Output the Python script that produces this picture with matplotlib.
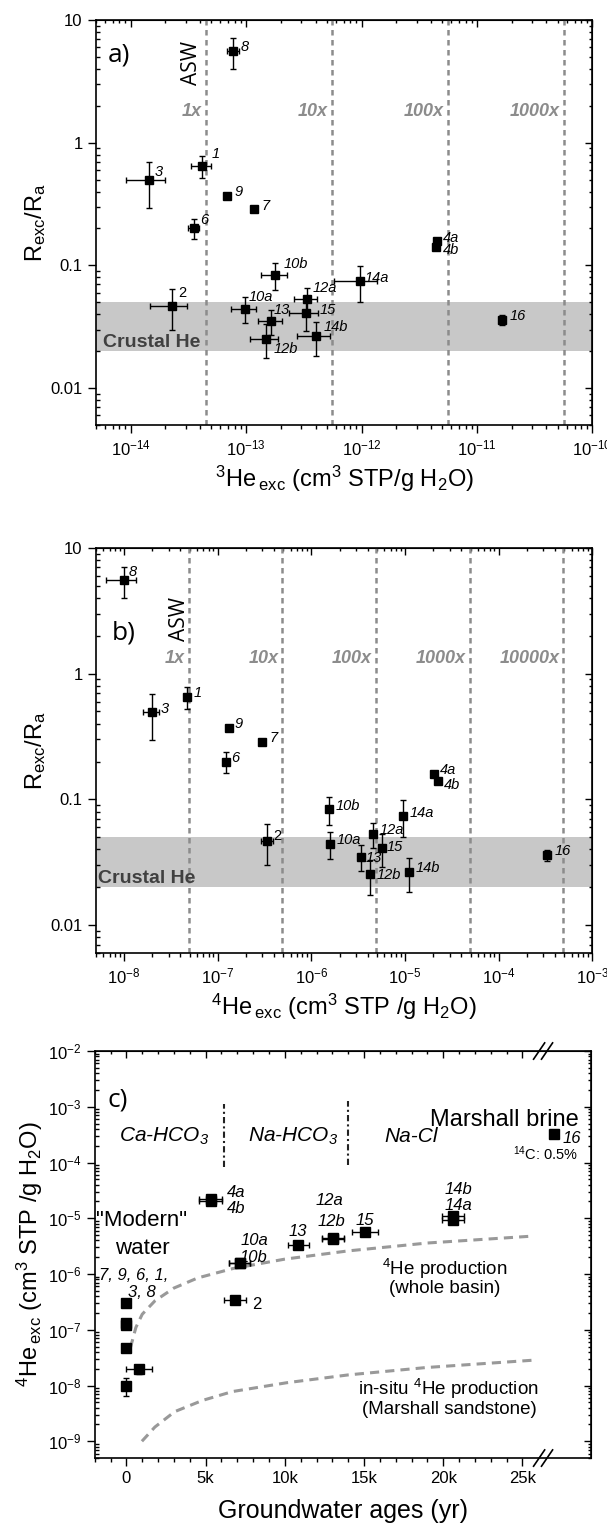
import numpy as np
import matplotlib
matplotlib.use('Agg')
import matplotlib.pyplot as plt
from matplotlib.ticker import FixedLocator, NullFormatter, FuncFormatter
import matplotlib.transforms as mtransforms

plt.rcParams['font.family'] = ['Liberation Sans', 'DejaVu Sans']
plt.rcParams['axes.unicode_minus'] = False
plt.rcParams['mathtext.fontset'] = 'custom'
plt.rcParams['mathtext.rm'] = 'Liberation Sans'
plt.rcParams['mathtext.it'] = 'Liberation Sans:italic'
plt.rcParams['mathtext.bf'] = 'Liberation Sans:bold'

# ---- data ----
samples = ['1', '2', '3', '4a', '4b', '6', '7', '8', '9',
           '10a', '10b', '12a', '12b', '13', '14a', '14b', '15', '16']
he3 = [4.14e-14, 2.28e-14, 1.44e-14, 4.52e-12, 4.45e-12, 3.52e-14, 1.18e-13, 7.74e-14, 6.79e-14,
       9.83e-14, 1.79e-13, 3.35e-13, 1.49e-13, 1.65e-13, 9.73e-13, 4.07e-13, 3.28e-13, 1.66e-11]
he3_err = [0.8e-14, 0.8e-14, 0.53e-14, 0.1e-12, 0.1e-12, 0.38e-14, 0.05e-13, 0.9e-14, 0.2e-14,
           2.4e-14, 0.45e-13, 0.77e-13, 0.41e-13, 0.38e-13, 4.0e-13, 1.29e-13, 0.95e-13, 0.1e-11]
he4 = [4.64e-8, 3.36e-7, 1.98e-8, 2.04e-5, 2.24e-5, 1.22e-7, 3.0e-7, 9.9e-9, 1.32e-7,
       1.59e-6, 1.55e-6, 4.5e-6, 4.26e-6, 3.37e-6, 9.5e-6, 1.1e-5, 5.7e-6, 3.27e-4]
he4_err = [0.3e-8, 0.5e-7, 0.38e-8, 0.05e-5, 0.05e-5, 0.05e-7, 0.1e-7, 3.5e-9, 0.05e-7,
           0.05e-6, 0.05e-6, 0.1e-6, 0.1e-6, 0.1e-6, 0.2e-6, 0.3e-6, 0.1e-6, 0.1e-4]
ratio = [0.65, 0.047, 0.495, 0.158, 0.141, 0.20, 0.287, 5.55, 0.37,
         0.0445, 0.084, 0.053, 0.0253, 0.035, 0.074, 0.0264, 0.041, 0.036]
ratio_err = [0.13, 0.017, 0.2, 0.005, 0.005, 0.037, 0.01, 1.55, 0.02,
             0.0108, 0.021, 0.012, 0.0078, 0.008, 0.024, 0.008, 0.012, 0.0035]
age = [0, 6830, 800, 5320, 5320, 0, 0, 0, 0,
       7150, 7150, 13050, 13050, 10850, 20600, 20600, 15070, 27000]
age_err = [0, 700, 800, 730, 730, 0, 0, 0, 0,
           670, 670, 700, 700, 670, 700, 700, 800, 0]

crustal_band = [0.02, 0.05]
asw_he3 = [4.5e-14, 5.55e-13, 5.6e-12, 5.7e-11]
asw_he3_labels = ['1x', '10x', '100x', '1000x']
asw_he4 = [4.9e-8, 4.9e-7, 4.9e-6, 4.9e-5, 4.9e-4]
asw_he4_labels = ['1x', '10x', '100x', '1000x', '10000x']

basin_age = [250, 600, 1000, 1800, 3000, 4500, 6700, 10000, 14000, 19000, 25700]
basin_he4 = [4.7e-8, 1.1e-7, 1.9e-7, 3.3e-7, 5.6e-7, 8.5e-7, 1.25e-6, 1.85e-6, 2.6e-6, 3.6e-6, 4.8e-6]
insitu_age = [980, 1800, 3050, 4800, 6700, 10100, 14000, 18900, 25700]
insitu_he4 = [1.0e-9, 1.8e-9, 3.4e-9, 5.4e-9, 7.8e-9, 1.12e-8, 1.55e-8, 2.1e-8, 2.85e-8]

facies_age = [6170, 13980]
facies_lo = [8.4e-5, 9.0e-5]
facies_hi = [1.12e-3, 1.27e-3]
break_age = 26300

# label offsets (pixels right, pixels down) per panel
off_a = {'8': (7.7, -4), '1': (9.3, -11.3), '3': (6, -8.3), '9': (7.7, -3.3), '7': (7, -3.3),
         '6': (6, -8.7), '4a': (6.2, -3.3), '4b': (7, 3.3), '10b': (8, -10.7), '14a': (4.6, -3.3),
         '12a': (5.8, -11), '2': (5.8, -12.3), '10a': (3.5, -11.3), '15': (13.5, -2.7),
         '13': (2.7, -11), '12b': (7.7, 10.7), '14b': (7, -9), '16': (7, -4)}
off_b = {'8': (5, -8.3), '3': (8.5, -3.3), '1': (6.6, -4), '9': (5.8, -4.3), '7': (6.6, -4.3),
         '6': (5.8, -3.3), '4a': (5.8, -4.3), '4b': (5.8, 4), '10b': (6.6, -3.3), '14a': (6.6, -3.3),
         '12a': (7.3, -4.3), '2': (6.2, -4.3), '10a': (6.6, -3.7), '15': (4.6, -0.7),
         '13': (5, 1), '12b': (5.8, 1), '14b': (7, -4), '16': (7.3, -4)}
off_c = {'4a': (16, -8.3, 'left'), '4b': (16, 10, 'left'), '12a': (-4, -36.7, 'center'),
         '12b': (-2, -17.7, 'center'), '15': (0, -11.3, 'center'), '13': (0, -13.3, 'center'),
         '10a': (14.3, -22.7, 'center'), '10b': (14, -5.7, 'center'), '14b': (5.8, -26.7, 'center'),
         '14a': (5.8, -14.3, 'center'), '2': (17.4, 4.3, 'left'), '16': (8.5, 4.3, 'left')}

GRAY = '#8c8c8c'
PX = 0.72  # points per pixel at dpi 100
TAGFONT = ['Open Sans', 'DejaVu Sans']

fig = plt.figure(figsize=(6.07, 15.25), dpi=100)
ax_a = fig.add_axes([0.158, 0.7213, 0.818, 0.2656])
ax_b = fig.add_axes([0.158, 0.3751, 0.818, 0.2656])
ax_c = fig.add_axes([0.156, 0.0439, 0.817, 0.2669])


def style_ticks(ax):
    ax.tick_params(axis='both', which='major', labelsize=12, width=1, length=6, direction='out')
    ax.tick_params(axis='x', which='minor', width=1, length=3, direction='out')
    ax.tick_params(axis='y', which='minor', width=1, length=3, direction='in')
    for s in ax.spines.values():
        s.set_linewidth(1.2)
    top = ax.secondary_xaxis('top')
    right = ax.secondary_yaxis('right')
    for sec, axis in ((top, top.xaxis), (right, right.yaxis)):
        sec.tick_params(which='major', direction='in', length=5, width=1)
        sec.tick_params(which='minor', direction='in', length=2.5, width=1)
        axis.set_major_formatter(NullFormatter())
        axis.set_minor_formatter(NullFormatter())
    return top, right


def label_points(ax, xs, ys, offsets, size):
    for name, x, y in zip(samples, xs, ys):
        if name not in offsets:
            continue
        o = offsets[name]
        ha = o[2] if len(o) > 2 else 'left'
        style = 'normal' if name == '2' else 'italic'
        ax.annotate(name, (x, y), xytext=(o[0] * PX, -o[1] * PX), textcoords='offset points',
                    ha=ha, va='center', fontsize=size, style=style)


def ratio_panel(ax, xvals, xerr, lines, line_labels, xlim, ylim, xlabel, tag, tag_xy, asw_xy,
                lab_y, crust_x, offsets):
    ax.set_xscale('log')
    ax.set_yscale('log')
    ax.set_xlim(*xlim)
    ax.set_ylim(*ylim)
    ax.axhspan(crustal_band[0], crustal_band[1], color='#c8c8c8', lw=0, zorder=0)
    for x, lab in zip(lines, line_labels):
        ax.axvline(x, color=GRAY, lw=1.8, ls=(0, (2.2, 1.8)), zorder=1)
        ax.annotate(lab, (x, lab_y), xytext=(-3, 0), textcoords='offset points', ha='right',
                    va='center', fontsize=13, style='italic', fontweight='bold', color=GRAY)
    ax.errorbar(xvals, ratio, xerr=xerr, yerr=ratio_err, fmt='s', color='black', ms=6,
                elinewidth=1, capsize=2.5, capthick=1, zorder=3)
    label_points(ax, xvals, ratio, offsets, 10.5)
    ax.text(crust_x, 0.0235, 'Crustal He', fontsize=14, fontweight='bold', color='#404040',
            va='center', family=['Liberation Sans Narrow', 'Liberation Sans'])
    ax.text(tag_xy[0], tag_xy[1], tag, fontsize=19, family=TAGFONT, va='center')
    ax.text(asw_xy[0], asw_xy[1], 'ASW', fontsize=15, family=TAGFONT,
            rotation=90, ha='center', va='center')
    ax.yaxis.set_major_formatter(FuncFormatter(lambda v, p: '%g' % v))
    ax.yaxis.set_minor_formatter(NullFormatter())
    ax.set_xlabel(xlabel, fontsize=17, labelpad=4)
    ax.set_ylabel(r'$\mathregular{R_{exc}/R_a}$', fontsize=17, labelpad=2)
    style_ticks(ax)


ratio_panel(ax_a, he3, he3_err, asw_he3, asw_he3_labels, (5e-15, 1e-10), (0.005, 10),
            r'$\mathregular{^3He\,{}_{exc}\ (cm^3\ STP/g\ H_2O)}$', 'a)', (6.3e-15, 5.2),
            (3.36e-14, 4.5), 1.78, 5.8e-15, off_a)
ratio_panel(ax_b, he4, he4_err, asw_he4, asw_he4_labels, (5e-9, 1e-3), (0.006, 10),
            r'$\mathregular{^4He\,{}_{exc}\ (cm^3\ STP\ /g\ H_2O)}$', 'b)', (7.4e-9, 2.1),
            (3.9e-8, 2.72), 1.33, 5.3e-9, off_b)

# ---- panel c ----
ax = ax_c
ax.set_yscale('log')
ax.set_xlim(-2000, 29300)
ax.set_ylim(5e-10, 1e-2)
ax.plot(basin_age, basin_he4, color='#999999', lw=2.2, ls=(0, (3, 2)), zorder=1)
ax.plot(insitu_age, insitu_he4, color='#999999', lw=2.2, ls=(0, (3, 2)), zorder=1)
ax.vlines(facies_age, facies_lo, facies_hi, colors='#222222', lw=1.5, linestyles=[(0, (3, 1.5, 1, 1.5))])
ax.errorbar(age, he4, xerr=age_err, yerr=he4_err, fmt='s', color='black', ms=7,
            elinewidth=1, capsize=2.5, capthick=1, zorder=3)
label_points(ax, age, he4, off_c, 12)

ax.text(-1220, 1.32e-3, 'c)', fontsize=19, family=TAGFONT, va='center')
ax.text(2370, 2.9e-4, r'Ca-HCO$\mathregular{_3}$', fontsize=15, style='italic', ha='center', va='center')
ax.text(10500, 2.9e-4, r'Na-HCO$\mathregular{_3}$', fontsize=15, style='italic', ha='center', va='center')
ax.text(17970, 2.9e-4, 'Na-Cl', fontsize=15, style='italic', ha='center', va='center')
ax.text(28540, 5.8e-4, 'Marshall brine', fontsize=17, ha='right', va='center')
ax.text(28540, 1.42e-4, r'$\mathregular{^{14}}$C: 0.5%', fontsize=10.5, ha='right', va='center')
ax.text(980, 9.3e-6, '"Modern"', fontsize=16, ha='center', va='center')
ax.text(980, 2.88e-6, 'water', fontsize=16, ha='center', va='center')
ax.text(440, 9.3e-7, '7, 9, 6, 1,', fontsize=12, style='italic', ha='center', va='center')
ax.text(980, 4.6e-7, '3, 8', fontsize=12, style='italic', ha='center', va='center')
ax.text(20100, 1.25e-6, r'$\mathregular{^4}$He production', fontsize=13.5, ha='center', va='center')
ax.text(20100, 5.4e-7, '(whole basin)', fontsize=13.5, ha='center', va='center')
ax.text(20300, 8.75e-9, r'in-situ $\mathregular{^4}$He production', fontsize=13.5, ha='center', va='center')
ax.text(20400, 3.67e-9, '(Marshall sandstone)', fontsize=13.5, ha='center', va='center')

ax.xaxis.set_major_locator(FixedLocator([0, 5000, 10000, 15000, 20000, 25000]))
ax.xaxis.set_minor_locator(FixedLocator([v for v in range(-2000, 25001, 1000) if v % 5000]))
ax.xaxis.set_major_formatter(FuncFormatter(lambda v, p: '0' if v == 0 else '%dk' % (v / 1000)))
ax.yaxis.set_minor_formatter(NullFormatter())
ax.set_xlabel('Groundwater ages (yr)', fontsize=18, labelpad=9)
ax.set_ylabel(r'$\mathregular{^4He\,{}_{exc}\ (cm^3\ STP\ /g\ H_2O)}$', fontsize=17, labelpad=2)
top_c, right_c = style_ticks(ax)
top_c.xaxis.set_major_locator(FixedLocator([0, 5000, 10000, 15000, 20000, 25000]))
top_c.xaxis.set_minor_locator(FixedLocator([v for v in range(-2000, 25001, 1000) if v % 5000]))

# axis break marks
trans = mtransforms.blended_transform_factory(ax.transData, ax.transAxes)
for yb in (0.0, 1.0):
    for dx in (-250, 250):
        ax.plot([break_age + dx - 350, break_age + dx + 350], [yb - 0.02, yb + 0.02],
                color='black', lw=1.2, transform=trans, clip_on=False, zorder=5)

fig.savefig('out.png', dpi=100)
